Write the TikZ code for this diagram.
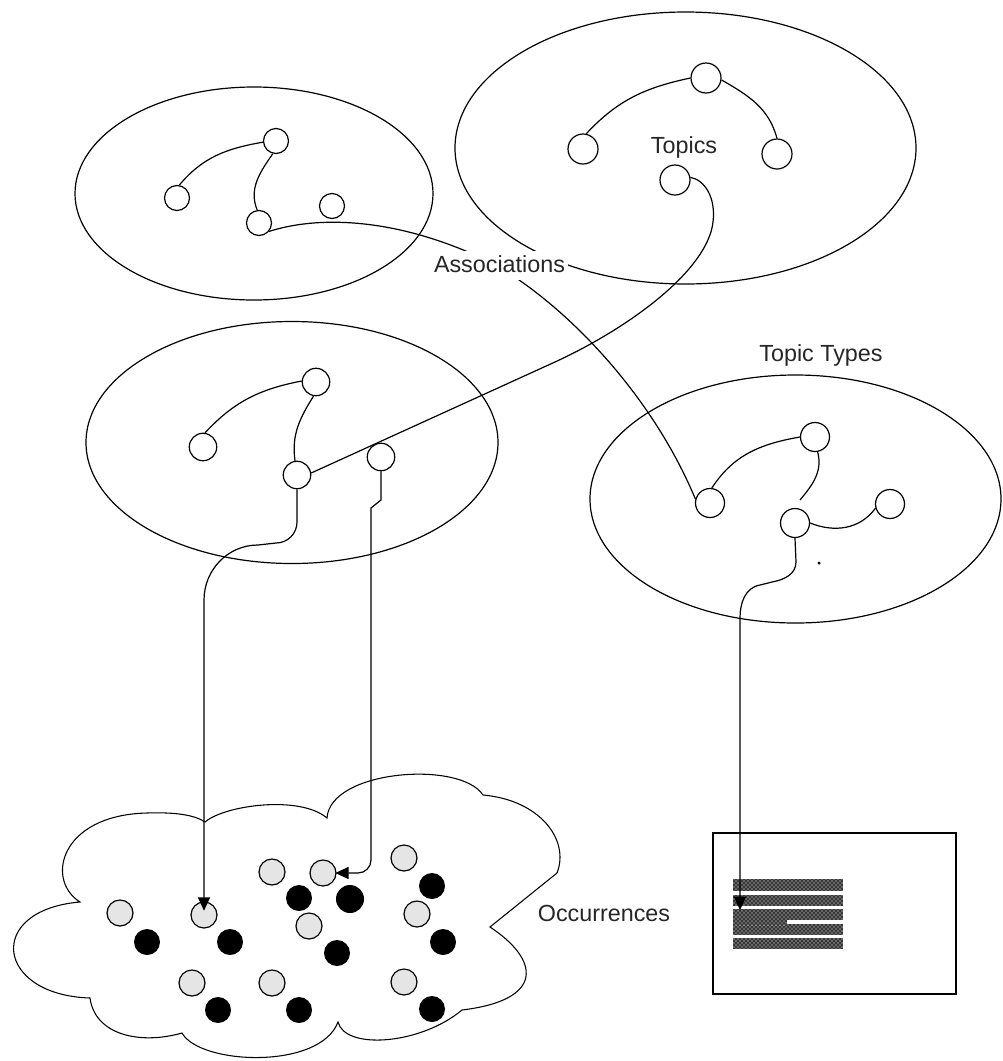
\documentclass[tikz,border=0pt]{standalone}
\usepackage{fontspec}
\setmainfont{Liberation Sans}
\usetikzlibrary{shapes.geometric,arrows.meta,patterns}
\begin{document}
\begin{tikzpicture}[x=0.75pt,y=0.75pt,line width=0.9pt,
  ell/.style={ellipse,draw,inner sep=0pt},
  tc/.style={circle,draw,fill=white,inner sep=0pt,minimum size=#1},
  gocc/.style={circle,draw,fill=gray!20,inner sep=0pt,minimum size=19.5pt},
  bocc/.style={circle,fill=black,inner sep=0pt,minimum size=#1},
  bocc/.default=19.5pt,
  conn/.style={line width=0.9pt},
  arr/.style={-{Triangle[length=10pt,width=9pt]}},
  lbl/.style={font=\fontsize{17.5pt}{20pt}\selectfont,text=black!85,inner sep=0pt,anchor=base},
  rowfill/.style={fill=black!78},
  rowdots/.style={pattern=crosshatch dots,pattern color=white}
]
\useasboundingbox (0,0) rectangle (1003,-1061);

% ellipses
\node[ell,minimum width=268.5pt,minimum height=159.75pt] (E1) at (254,-193.5) {};
\node[ell,minimum width=345.75pt,minimum height=204pt] (E2) at (685.5,-148) {};
\node[ell,minimum width=309pt,minimum height=181.5pt] (E3) at (292,-442.5) {};
\node[ell,minimum width=308.25pt,minimum height=186pt] (E4) at (795.5,-499) {};

% topics in E1
\node[tc=18.75pt] (A1) at (276,-141) {};
\node[tc=18.75pt] (A2) at (177,-198) {};
\node[tc=18.75pt] (A3) at (259,-223) {};
\node[tc=18.75pt] (A4) at (332,-206) {};
% topics in E2
\node[tc=22.5pt] (T1) at (706,-78) {};
\node[tc=22.5pt] (T2) at (583,-149) {};
\node[tc=22.5pt] (T3) at (777,-154) {};
\node[tc=22.5pt] (T4) at (675,-180) {};
% topics in E3
\node[tc=20.6pt] (M1) at (316,-382) {};
\node[tc=20.6pt] (M2) at (203,-447) {};
\node[tc=20.6pt] (M3) at (297,-475) {};
\node[tc=20.6pt] (M4) at (381,-457) {};
% topics in E4
\node[tc=21.75pt] (B1) at (710,-503) {};
\node[tc=21.75pt] (B2) at (815,-437) {};
\node[tc=21.75pt] (B3) at (795,-523) {};
\node[tc=21.75pt] (B4) at (890,-504) {};
\fill (819,-563) circle (1.3pt);

% cloud
\draw[line width=0.8pt] (80,-902)
  .. controls (45,-880) and (60,-815) .. (147,-813)
  .. controls (175,-812) and (195,-815) .. (205,-822)
  .. controls (225,-805) and (300,-795) .. (327,-818)
  .. controls (330,-770) and (460,-760) .. (483,-795)
  .. controls (540,-800) and (570,-840) .. (557,-873)
  -- (490,-927)
  .. controls (540,-960) and (545,-1000) .. (462,-1010)
  .. controls (420,-1045) and (345,-1050) .. (338,-1022)
  .. controls (320,-1070) and (200,-1065) .. (182,-1033)
  .. controls (140,-1045) and (95,-1035) .. (90,-998)
  .. controls (-5,-995) and (-15,-910) .. cycle;

% occurrences
\node[gocc] (G1) at (120,-913) {};
\node[gocc] (G2) at (204,-915) {};
\node[gocc] (G3) at (192,-983) {};
\node[gocc] (G4) at (272,-983) {};
\node[gocc] (G5) at (272,-872) {};
\node[gocc] (G6) at (323,-873) {};
\node[gocc] (G7) at (309,-926) {};
\node[gocc] (G8) at (404,-858) {};
\node[gocc] (G9) at (417,-914) {};
\node[gocc] (G10) at (404,-982) {};
\node[bocc] (K1) at (147,-942) {};
\node[bocc] (K2) at (230,-942) {};
\node[bocc] (K3) at (218,-1010) {};
\node[bocc] (K4) at (299,-898) {};
\node[bocc=21pt] (K5) at (350,-899) {};
\node[bocc] (K6) at (337,-953) {};
\node[bocc] (K7) at (299,-1010) {};
\node[bocc] (K8) at (432,-886) {};
\node[bocc] (K9) at (443,-942) {};
\node[bocc] (K10) at (432,-1009) {};

% document
\node[draw,line width=1.2pt,inner sep=0pt,minimum width=182.25pt,minimum height=120.75pt] (doc) at (834.5,-913.5) {};
\foreach \ya/\yb in {879/891,895/906,909/920,924/935,938/949}{
  \fill[rowfill] (733,-\ya) rectangle (843,-\yb);
  \fill[rowdots] (733,-\ya) rectangle (843,-\yb);
}
\fill[rowfill] (733,-919) rectangle (787,-925);
\fill[rowdots] (733,-919) rectangle (787,-925);
\coordinate (docpt) at (740,-910);

% associations within ellipses
\draw[conn] (A2.80) to[out=50,in=190] (A1.185);
\draw[conn] (A1.256) to[out=235,in=112] (A3.98);
\draw[conn] (T2.78) to[out=47,in=192] (T1.180);
\draw[conn] (T1.-7) to[out=-30,in=105] (T3.90);
\draw[conn] (M2.82) to[out=47,in=191] (M1.176);
\draw[conn] (M1.260) to[out=238,in=98] (M3.98);
\draw[conn] (B1.83) to[out=57,in=190] (B2.180);
\coordinate (b2end) at (800,-500);
\draw[conn] (B2.-80) to[out=-75,in=50] (b2end);
\draw[conn] (B3.0) to[out=-22,in=234] (B4.196);

% long connectors
\draw[conn] (A3.-40) .. controls (320,-215) and (400,-218) .. (490,-262)
  .. controls (560,-300) and (650,-390) .. (B1.165);
\draw[conn] (T4.10) .. controls (705,-180) and (716,-198) .. (713,-222)
  .. controls (708,-268) and (635,-325) .. (555,-362) -- (M3.8);

% occurrence links
\draw[conn,arr,shorten >=-7pt] (M3.south) -- (297,-522) to[out=-90,in=0] (276,-543)
  -- (258,-545) to[out=180,in=90] (204,-600) -- (G2.north);
\draw[conn,arr,shorten >=-1pt] (M4.south) -- (381,-500) -- (371,-508) -- (371,-860)
  to[out=-90,in=0] (358,-873) -- (G6.east);
\draw[conn,arr] (B3.south) -- (796,-562) to[out=-90,in=10] (772,-582)
  -- (760,-585) to[out=190,in=90] (740,-618) -- (docpt);

% labels
\node[lbl] (ltopics) at (684,-153) {Topics};
\node[lbl,fill=white,inner xsep=2pt,inner ysep=3pt,text depth=3pt] (lassoc) at (499.5,-272) {Associations};
\node[lbl] (ltypes) at (821,-361) {Topic Types};
\node[lbl] (locc) at (604,-921) {Occurrences};
\end{tikzpicture}
\end{document}
